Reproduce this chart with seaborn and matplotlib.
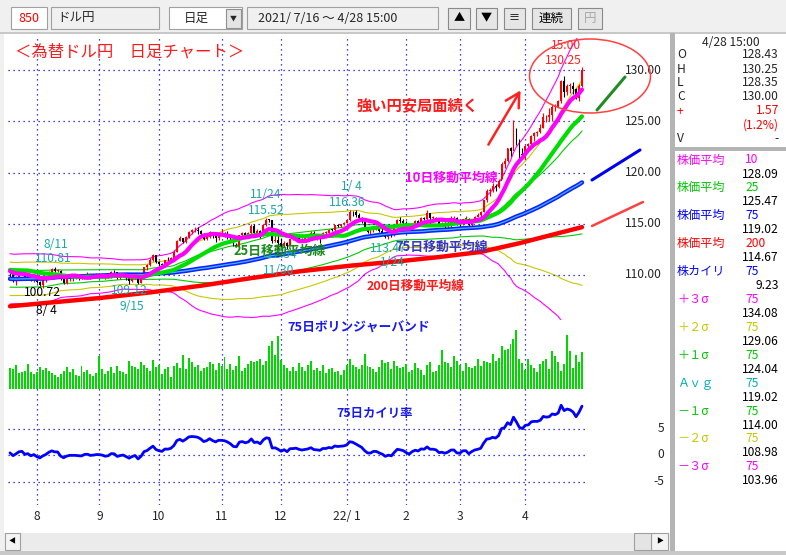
import numpy as np
import pandas as pd
import matplotlib
matplotlib.use("Agg")
import matplotlib.pyplot as plt
import seaborn as sns
from matplotlib import transforms
from matplotlib.patches import Rectangle, Ellipse, FancyArrowPatch
from matplotlib.lines import Line2D

# ---------------- data ----------------
# closes before the visible window (used only for the moving averages / bands)
warmup_close = [110.63, 110.29, 110.65, 110.19, 109.72, 109.83, 109.28, 109.67, 109.62, 109.37, 108.86,
                108.79, 108.78, 108.80, 108.12, 107.98, 107.94, 108.02, 107.96, 108.62, 108.91, 109.30,
                109.13, 109.32, 109.10, 109.07, 108.60, 108.78, 108.62, 109.62, 109.46, 109.38, 109.22,
                108.86, 109.24, 108.98, 108.75, 108.75, 109.11, 109.08, 109.84, 110.04, 109.58,
                109.53, 109.57, 110.32, 109.50, 109.25, 109.51, 109.65, 109.67, 109.67, 110.07, 110.05,
                110.70, 110.21, 110.22, 110.01, 110.66, 110.88, 110.92, 110.70, 110.46, 110.70, 110.55,
                111.55, 111.05, 110.97, 110.63, 110.60, 110.35, 110.16, 110.32, 110.60, 109.99, 110.08]

close_jul = [110.07, 109.48, 109.84, 110.28, 110.38, 109.76, 109.91, 109.47, 109.72]
high_jul = [110.20, 110.10, 109.95, 110.40, 110.60, 110.50, 110.20, 110.10, 109.80]
low_jul = [109.85, 109.36, 109.07, 109.80, 110.10, 109.60, 109.60, 109.40, 109.35]

close_aug = [109.30, 109.04, 109.47, 109.77, 110.25, 110.59, 110.41, 110.42, 109.58, 109.26, 109.60,
             109.77, 109.77, 109.78, 109.71, 109.68, 110.00, 110.06, 109.84, 109.91, 110.02]
high_aug = [109.75, 109.40, 109.60, 109.80, 110.35, 110.70, 110.81, 110.55, 110.45, 109.65, 109.70,
            109.85, 110.00, 110.05, 109.95, 109.85, 110.10, 110.25, 110.12, 110.05, 110.15]
low_aug = [109.20, 108.92, 108.72, 109.35, 109.70, 110.20, 110.30, 110.25, 109.50, 109.10, 109.10,
           109.45, 109.45, 109.60, 109.50, 109.60, 109.65, 109.90, 109.60, 109.80, 109.70]

close_sep = [110.02, 109.92, 109.71, 109.83, 110.28, 110.25, 109.72, 109.92, 110.04, 109.70, 109.38,
             109.72, 109.94, 109.22, 109.78, 110.75, 110.99, 111.50, 111.97, 111.29]
high_sep = [110.20, 110.10, 110.00, 109.95, 110.35, 110.45, 110.25, 110.00, 110.15, 110.15, 109.75,
            109.80, 110.00, 109.70, 109.85, 110.80, 111.05, 111.65, 112.05, 112.00]
low_sep = [109.85, 109.80, 109.60, 109.70, 109.75, 110.10, 109.60, 109.60, 109.85, 109.55, 109.12,
           109.30, 109.60, 109.15, 109.20, 110.20, 110.50, 110.90, 111.35, 111.20]

close_oct = [111.05, 110.93, 111.44, 111.42, 111.62, 112.21, 113.29, 113.60, 113.25, 113.68, 114.21,
             114.36, 114.36, 114.30, 114.00, 113.47, 113.70, 114.16, 113.81, 113.58, 113.96]
high_oct = [111.40, 111.15, 111.50, 111.80, 111.75, 112.40, 113.40, 113.80, 113.65, 113.80, 114.25,
            114.45, 114.70, 114.70, 114.40, 114.05, 113.95, 114.30, 114.20, 113.90, 114.00]
low_oct = [110.85, 110.80, 110.90, 111.30, 111.25, 111.55, 112.20, 113.30, 113.10, 113.15, 113.60,
           114.00, 114.20, 114.00, 113.70, 113.40, 113.45, 113.60, 113.60, 113.25, 113.40]

close_nov = [114.00, 113.97, 113.76, 113.42, 112.90, 112.87, 113.91, 114.08, 113.87, 114.13, 114.81,
             114.12, 114.29, 113.98, 114.87, 115.40, 115.36, 113.36, 113.45, 113.17]
high_nov = [114.45, 114.15, 114.30, 113.80, 113.45, 113.10, 113.95, 114.20, 114.20, 114.20, 114.95,
            114.95, 114.50, 114.35, 114.95, 115.52, 115.50, 115.40, 113.90, 113.90]
low_nov = [113.80, 113.70, 113.55, 113.25, 112.80, 112.70, 112.80, 113.80, 113.75, 113.80, 114.00,
           114.00, 114.00, 113.60, 113.85, 114.80, 115.20, 113.10, 113.20, 112.54]

close_dec = [112.79, 113.17, 112.80, 113.48, 113.55, 113.70, 113.49, 113.40, 113.57, 113.74, 114.05,
             113.70, 113.70, 113.63, 114.09, 114.14, 114.42, 114.37, 114.87, 114.82, 114.96, 115.08]
high_dec = [113.65, 113.35, 113.25, 113.50, 113.80, 113.90, 113.75, 113.65, 113.65, 113.90, 114.25,
            114.30, 113.85, 113.80, 114.20, 114.25, 114.50, 114.45, 114.90, 114.95, 115.00, 115.15]
low_dec = [112.60, 112.70, 112.55, 112.85, 113.40, 113.45, 113.40, 113.20, 113.35, 113.50, 113.60,
           113.60, 113.45, 113.15, 113.60, 113.90, 114.10, 114.25, 114.30, 114.65, 114.70, 114.90]

close_jan = [115.35, 116.14, 116.12, 115.86, 115.56, 115.29, 114.65, 114.19, 114.20, 114.60, 114.62,
             114.33, 114.11, 113.69, 113.98, 113.86, 114.65, 115.36, 115.26, 115.12]
high_jan = [115.40, 116.36, 116.20, 116.30, 116.05, 115.70, 115.45, 114.70, 114.50, 114.70, 114.90,
            114.70, 114.60, 114.20, 114.05, 114.05, 114.75, 115.45, 115.70, 115.45]
low_jan = [115.05, 115.30, 115.80, 115.70, 115.50, 115.05, 114.55, 114.10, 113.90, 114.20, 114.40,
           114.20, 114.05, 113.60, 113.47, 113.70, 113.80, 114.60, 115.10, 114.95]

close_feb = [114.70, 114.40, 114.95, 115.25, 115.10, 115.57, 115.51, 116.05, 115.57, 115.60, 115.48,
             114.91, 115.00, 114.80, 115.06, 115.52, 115.57, 114.95]
high_feb = [115.25, 114.80, 115.05, 115.35, 115.40, 115.70, 115.65, 116.35, 115.65, 115.75, 115.65,
            115.50, 115.20, 115.20, 115.25, 115.75, 115.75, 115.70]
low_feb = [114.60, 114.20, 114.30, 114.85, 114.90, 115.05, 115.40, 115.40, 115.00, 115.30, 115.25,
           114.85, 114.80, 114.50, 114.60, 114.40, 115.30, 114.85]

close_mar = [114.93, 115.46, 115.51, 114.86, 115.35, 115.70, 115.87, 116.12, 117.29, 118.19, 118.33,
             118.66, 118.59, 119.19, 120.83, 121.13, 122.35, 122.06, 123.83, 122.90, 121.83, 121.70]
high_mar = [115.20, 115.50, 115.80, 115.55, 115.50, 115.80, 116.05, 116.20, 117.35, 118.35, 118.45,
            118.95, 118.85, 119.40, 121.00, 121.40, 122.40, 122.45, 125.09, 124.30, 123.25, 122.40]
low_mar = [114.70, 114.85, 115.35, 114.70, 114.80, 115.30, 115.70, 115.60, 116.10, 117.15, 117.70,
           118.10, 118.20, 118.50, 119.40, 120.40, 121.00, 121.65, 122.40, 122.65, 121.20, 121.30]

close_apr = [122.55, 122.77, 123.59, 123.82, 123.95, 124.35, 125.37, 125.37, 125.63, 126.41, 126.43,
             126.96, 128.90, 127.89, 128.44, 128.44, 128.14, 127.24, 128.43, 130.00]
high_apr = [122.70, 122.90, 123.70, 124.00, 124.05, 124.70, 125.80, 125.60, 126.30, 126.70, 126.65,
            127.10, 129.00, 129.40, 128.60, 128.70, 128.80, 128.20, 128.60, 130.25]
low_apr = [121.30, 122.10, 122.40, 123.10, 123.60, 123.85, 124.35, 124.95, 125.00, 125.05, 126.00,
           126.40, 126.80, 127.40, 127.55, 127.80, 127.65, 127.20, 126.95, 128.35]

volume = [21, 20, 24, 16, 17, 18, 25, 17, 15,
          17, 22, 19, 21, 18, 16, 14, 12, 15, 18, 22, 17, 20, 14, 13, 23, 17, 19, 15, 13, 16,
          33, 20, 15, 18, 22, 16, 23, 18, 17, 15, 28, 23, 22, 20, 27, 24, 21, 18, 29, 22,
          24, 15, 20, 22, 12, 23, 26, 21, 34, 20, 31, 27, 22, 24, 18, 21, 22, 27, 25, 19, 26,
          23, 32, 20, 25, 19, 23, 33, 18, 21, 25, 28, 27, 28, 30, 24, 28, 43, 48, 34, 53,
          29, 24, 21, 18, 22, 18, 26, 22, 18, 24, 28, 19, 21, 18, 24, 16, 20, 21, 17, 18, 14, 19,
          24, 30, 24, 22, 20, 24, 35, 23, 22, 20, 17, 22, 29, 26, 27, 20, 28, 23, 21, 22,
          25, 17, 19, 26, 21, 19, 14, 24, 27, 17, 18, 24, 39, 27, 26, 22, 33, 28,
          24, 18, 26, 22, 21, 23, 30, 23, 28, 27, 26, 35, 28, 31, 43, 39, 40, 45, 50, 59, 30, 26,
          19, 30, 24, 21, 17, 25, 28, 30, 20, 38, 33, 27, 18, 25, 54, 38, 21, 34, 27, 37]

# 200-day average (day index, value)
ma200_idx = [0, 30, 47, 64, 81, 97, 114, 131, 144, 158, 171, 181, 192]
ma200_val = [106.95, 107.75, 108.30, 108.95, 109.70, 110.35, 110.90, 111.35, 111.75, 112.25, 113.10, 113.85, 114.67]

holidays = ["2021-07-22", "2021-07-23", "2021-08-09", "2021-09-20", "2021-09-23", "2021-11-03",
            "2021-11-23", "2021-12-31", "2022-01-10", "2022-02-11", "2022-02-23", "2022-03-21"]

month_labels = ["8", "9", "10", "11", "12", "22/ 1", "2", "3", "4"]
price_ticks = [110, 115, 120, 125, 130]
price_tick_labels = ["110.00", "115.00", "120.00", "125.00", "130.00"]
dev_ticks = [5, 0, -5]

ohlc_rows = [("O", "128.43"), ("H", "130.25"), ("L", "128.35"), ("C", "130.00")]
panel_rows = [("株価平均", "10", "#ff00ff", "128.09"),
              ("株価平均", "25", "#00c800", "125.47"),
              ("株価平均", "75", "#0000ff", "119.02"),
              ("株価平均", "200", "#ff0000", "114.67"),
              ("株カイリ", "75", "#0000ff", "9.23"),
              ("＋３σ", "75", "#ff00ff", "134.08"),
              ("＋２σ", "75", "#c8c800", "129.06"),
              ("＋１σ", "75", "#00c800", "124.04"),
              ("Ａｖｇ", "75", "#00b0b0", "119.02"),
              ("－１σ", "75", "#00c800", "114.00"),
              ("－２σ", "75", "#c8c800", "108.98"),
              ("－３σ", "75", "#ff00ff", "103.96")]

# ---------------- derived series ----------------
close = close_jul + close_aug + close_sep + close_oct + close_nov + close_dec + close_jan + close_feb + close_mar + close_apr
high = high_jul + high_aug + high_sep + high_oct + high_nov + high_dec + high_jan + high_feb + high_mar + high_apr
low = low_jul + low_aug + low_sep + low_oct + low_nov + low_dec + low_jan + low_feb + low_mar + low_apr
n = len(close)
idx = np.arange(n)
c = np.array(close)
o = np.r_[warmup_close[-1], c[:-1]]
hi = np.array(high)
lo = np.array(low)

full = pd.Series(warmup_close + close)
n0 = len(warmup_close)
ma10 = full.rolling(10).mean().iloc[n0:].values
ma25 = full.rolling(25).mean().iloc[n0:].values
ma75 = full.rolling(75).mean().iloc[n0:].values
sd75 = full.rolling(75).std(ddof=0).iloc[n0:].values
dev = (c - ma75) / ma75 * 100

dates = pd.bdate_range("2021-07-16", "2022-04-28").difference(pd.to_datetime(holidays))
dates = dates[:n]
mon = pd.Series(dates.month)
month_idx = [i for i in range(1, len(mon)) if mon[i] != mon[i - 1]]

# ---------------- figure ----------------
sns.set_theme(style="white")
plt.rcParams["font.family"] = ["Noto Sans CJK JP", "DejaVu Sans"]
plt.rcParams["axes.unicode_minus"] = False

W, H = 786, 555
fig = plt.figure(figsize=(W / 100, H / 100), dpi=100)
fig.patch.set_facecolor("#f0f0f0")


def fx(x):
    return x / W


def fy(y):
    return 1 - y / H


def rect(x0, y0, x1, y1, fc, ec="none", lw=0.8, z=-5):
    fig.add_artist(Rectangle((fx(x0), fy(y1)), (x1 - x0) / W, (y1 - y0) / H, transform=fig.transFigure,
                             facecolor=fc, edgecolor=ec, linewidth=lw, zorder=z))


def txt(x, y, s, **kw):
    kw.setdefault("ha", "center")
    kw.setdefault("va", "center")
    kw.setdefault("fontsize", 8.7)
    fig.text(fx(x), fy(y), s, **kw)


def pax(x0, y0, x1, y1):
    ax = fig.add_axes([fx(x0), fy(y1), (x1 - x0) / W, (y1 - y0) / H])
    ax.set_axis_off()
    return ax


# ---- window chrome ----
rect(4, 34, 671, 533, "white", z=-8)
rect(0, 32, 786, 34, "#c8c8c8", z=-7)
rect(670, 33, 675, 552, "#b4b4b4", z=-7)
rect(675, 34, 786, 147, "white", z=-8)
rect(675, 151, 786, 551, "white", z=-8)
rect(675, 147, 786, 151, "#b4b4b4", z=-7)
rect(0, 551, 786, 555, "#c8c8c8", z=-7)
# scrollbar
rect(5, 533, 668, 550, "#ebebeb", z=-6)
rect(5, 533, 20, 550, "#f4f4f4", ec="#a0a0a0", z=-5)
rect(651, 533, 668, 550, "#f4f4f4", ec="#a0a0a0", z=-5)
rect(634, 533, 651, 550, "#e4e4e4", ec="#a0a0a0", z=-5)
txt(12.5, 541.5, "◀", fontsize=5, color="black")
txt(659.5, 541.5, "▶", fontsize=5, color="black")

# ---- toolbar ----
rect(11, 7, 47, 29, "white", ec="#a0a0a0")
txt(29, 18, "850", color="#ff0000", fontsize=9)
rect(51, 7, 159, 29, "#f0f0f0", ec="#a0a0a0")
txt(57, 18, "ドル円", ha="left", fontsize=9)
rect(169, 7, 242, 29, "white", ec="#a0a0a0")
txt(196, 18, "日足", fontsize=9)
rect(226, 9, 241, 28, "#e4e4e4", ec="#909090")
txt(233.5, 18.5, "▼", fontsize=5)
rect(247, 7, 438, 29, "#f0f0f0", ec="#a0a0a0")
txt(258, 18, "2021/ 7/16 〜 4/28 15:00", ha="left", fontsize=9)
for (x0, x1, lab, col) in [(448, 470, "▲", "black"), (476, 497, "▼", "black"), (504, 525, "≡", "black"),
                           (532, 571, "連続", "black"), (578, 602, "円", "#a8a8a8")]:
    rect(x0, 8, x1, 29, "#e6e6e6", ec="#8a8a8a")
    txt((x0 + x1) / 2, 18.5, lab, color=col, fontsize=9 if len(lab) > 1 or lab in "円" else 8)

# ---- axes ----
PX0, PXD = 10.0, 572.0 / 192.0
XL = ((8 - PX0) / PXD, (620 - PX0) / PXD)
GX0, GX1 = (8 - PX0) / PXD, (586 - PX0) / PXD
DOT = (0, (1, 3))
GRID_C = "#0000ff"

ax_bg = pax(8, 38, 620, 505)
ax_bg.set_xlim(*XL)
ax_bg.set_ylim(0, 1)
ax_bg.vlines(month_idx, 0, 1, colors=GRID_C, linestyles=DOT, linewidth=0.9)

P_TOP = 110 + (275 - 38) / 10.25
P_BOT = 110 - (320 - 275) / 10.25
ax_p = pax(8, 38, 620, 320)
ax_p.set_xlim(*XL)
ax_p.set_ylim(P_BOT, P_TOP)
ax_p.hlines(price_ticks, GX0, GX1, colors=GRID_C, linestyles=DOT, linewidth=0.9)

# Bollinger bands
for k, col in [(3, "#ff00ff"), (2, "#c8c800"), (1, "#00cc00")]:
    sns.lineplot(x=idx, y=ma75 + k * sd75, ax=ax_p, color=col, linewidth=0.8, zorder=1)
    sns.lineplot(x=idx, y=ma75 - k * sd75, ax=ax_p, color=col, linewidth=0.8, zorder=1)

# candles
up = c >= o
ccol = np.where(up, "#ff0000", "#000000")
ax_p.vlines(idx, lo, hi, colors=ccol, linewidth=0.8, zorder=2)
body = np.maximum(np.abs(c - o), 0.07)
ax_p.bar(idx, body, bottom=np.minimum(o, c), width=0.62, color=ccol, linewidth=0, zorder=2)

# moving averages
sns.lineplot(x=ma200_idx, y=ma200_val, ax=ax_p, color="#ff0000", linewidth=3.2, zorder=3)
sns.lineplot(x=idx, y=ma75, ax=ax_p, color="#1020ff", linewidth=3.2, zorder=3)
sns.lineplot(x=idx, y=ma75, ax=ax_p, color="#40b8ff", linewidth=0.9, zorder=3)
sns.lineplot(x=idx, y=ma25, ax=ax_p, color="#00dd00", linewidth=3.0, zorder=3)
sns.lineplot(x=idx, y=ma10, ax=ax_p, color="#ff00ff", linewidth=3.0, zorder=3)
for a in (ax_bg, ax_p):
    if a.get_legend():
        a.get_legend().remove()

tp = transforms.blended_transform_factory(ax_p.transAxes, ax_p.transData)
for p, lab in zip(price_ticks, price_tick_labels):
    ax_p.text((625 - 8) / 612, p, lab, transform=tp, ha="left", va="center", fontsize=8.7, clip_on=False)

# volume
ax_v = pax(8, 329, 620, 389)
ax_v.set_xlim(*XL)
ax_v.set_ylim(0, 60)
ax_v.bar(idx, volume[:n], width=0.66, color="#00d800", linewidth=0)

# deviation
ax_d = pax(8, 395, 620, 505)
ax_d.set_xlim(*XL)
ax_d.set_ylim(-(505 - 455) / 5.3, (455 - 395) / 5.3)
ax_d.hlines(dev_ticks, GX0, GX1, colors=GRID_C, linestyles=DOT, linewidth=0.9)
sns.lineplot(x=idx, y=dev, ax=ax_d, color="#0000ff", linewidth=2.0)
td = transforms.blended_transform_factory(ax_d.transAxes, ax_d.transData)
for v in dev_ticks:
    ax_d.text((664 - 8) / 612, v, str(v), transform=td, ha="right", va="center", fontsize=8.7)
tm = transforms.blended_transform_factory(ax_d.transData, fig.transFigure)
for mi, lab in zip(month_idx, month_labels):
    ax_d.text(mi, fy(517), lab, transform=tm, ha="center", va="center", fontsize=8.7)

# ---- annotations on chart ----
TEAL = "#1aa8a8"
for s, x, y, col in [("8/11", 56, 245, TEAL), ("110.81", 53, 259, TEAL),
                     ("100.72", 42, 293, "black"), ("8/ 4", 46, 310, "black"),
                     ("109.12", 129, 291, TEAL), ("9/15", 132, 306, TEAL),
                     ("11/24", 266, 195, TEAL), ("115.52", 266, 210, TEAL),
                     ("1/ 4", 351, 187, TEAL), ("116.36", 347, 202, TEAL),
                     ("112.54", 279, 255, TEAL), ("11/30", 279, 270, TEAL),
                     ("113.47", 388, 248, TEAL), ("1/24", 392, 262, TEAL),
                     ("15:00", 566, 45, "#ff2020"), ("130.25", 563, 61, "#ff2020")]:
    txt(x, y, s, color=col, fontsize=8.7)

txt(15, 52, "＜為替ドル円　日足チャート＞", ha="left", color="#ff1a1a", fontsize=11.8)
txt(417, 105, "強い円安局面続く", color="#ff1a1a", fontsize=11, fontweight="bold")
txt(451, 178, "10日移動平均線", color="#ff00ff", fontsize=9.3, fontweight="bold")
txt(280, 251, "25日移動平均線", color="#1a8a1a", fontsize=9.3, fontweight="bold")
txt(442, 247, "75日移動平均線", color="#3535c8", fontsize=9.3, fontweight="bold")
txt(416, 286, "200日移動平均線", color="#ff1a1a", fontsize=9.1, fontweight="bold")
txt(359, 328, "75日ボリンジャーバンド", color="#1a1aee", fontsize=9.2, fontweight="bold")
txt(375, 413, "75日カイリ率", color="#1a1aee", fontsize=8.9, fontweight="bold")

fig.add_artist(Ellipse((fx(590), fy(76)), 121 / W, 74 / H, transform=fig.transFigure,
                       fill=False, edgecolor="#ff4040", linewidth=1.1, zorder=4))
fig.add_artist(FancyArrowPatch((fx(487), fy(147)), (fx(522), fy(88)), transform=fig.transFigure,
                               arrowstyle="->,head_length=0.55,head_width=0.3", mutation_scale=18,
                               linewidth=1.8, color="#ff2020", zorder=4))
for (x0, y0, x1, y1, col, lw) in [(597, 110, 625, 77, "#228b22", 2.2),
                                  (592, 180, 640, 150, "#0000ee", 2.2),
                                  (592, 226, 643, 202, "#ff4040", 1.8)]:
    fig.add_artist(Line2D([fx(x0), fx(x1)], [fy(y0), fy(y1)], transform=fig.transFigure,
                          color=col, linewidth=lw, zorder=4))

# ---- right info panel ----
txt(731, 43, "4/28 15:00", fontsize=8.7)
for k, (lab, val) in enumerate(ohlc_rows):
    y = 55 + k * 14
    txt(677, y, lab, ha="left", fontsize=8.7)
    txt(779, y, val, ha="right", fontsize=8.7)
txt(677, 111, "+", ha="left", color="#ff0000", fontsize=8.7)
txt(779, 111, "1.57", ha="right", color="#ff0000", fontsize=8.7)
txt(779, 125, "(1.2%)", ha="right", color="#ff0000", fontsize=8.7)
txt(677, 139, "V", ha="left", fontsize=8.7)
txt(779, 139, "-", ha="right", fontsize=8.7)

for k, (lab, num, col, val) in enumerate(panel_rows):
    y = 160 + k * 27.9
    txt(677, y, lab, ha="left", color=col, fontsize=8.7)
    txt(745, y, num, ha="left", color=col, fontsize=8.7)
    txt(779, y + 14, val, ha="right", color="black", fontsize=8.7)

fig.savefig("out.png", dpi=100, facecolor=fig.get_facecolor())
